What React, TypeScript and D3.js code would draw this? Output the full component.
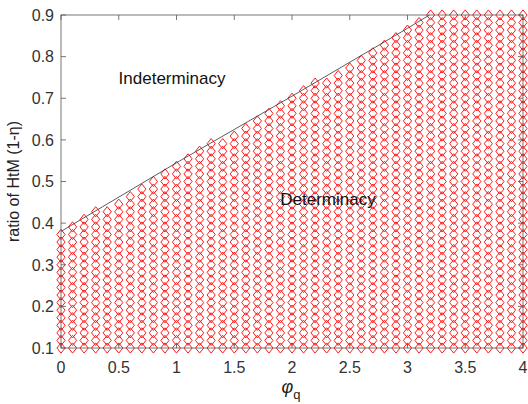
import React from 'react';
import * as d3 from 'd3';

// sampling grid of the stability check
const phiGrid = [
  0, 0.1, 0.2, 0.3, 0.4, 0.5, 0.6, 0.7, 0.8, 0.9,
  1, 1.1, 1.2, 1.3, 1.4, 1.5, 1.6, 1.7, 1.8, 1.9,
  2, 2.1, 2.2, 2.3, 2.4, 2.5, 2.6, 2.7, 2.8, 2.9,
  3, 3.1, 3.2, 3.3, 3.4, 3.5, 3.6, 3.7, 3.8, 3.9, 4,
];
const etaGrid = [
  0.1, 0.1182, 0.1364, 0.1545, 0.1727, 0.1909, 0.2091, 0.2273, 0.2455, 0.2636,
  0.2818, 0.3, 0.3182, 0.3364, 0.3545, 0.3727, 0.3909, 0.4091, 0.4273, 0.4455,
  0.4636, 0.4818, 0.5, 0.5182, 0.5364, 0.5545, 0.5727, 0.5909, 0.6091, 0.6273,
  0.6455, 0.6636, 0.6818, 0.7, 0.7182, 0.7364, 0.7545, 0.7727, 0.7909, 0.8091,
  0.8273, 0.8455, 0.8636, 0.8818, 0.9,
];
// how many grid rows (from the bottom) are determinate, per phi column
const determinateRows = [
  16, 17, 18, 19, 19, 20, 21, 22, 23, 24,
  25, 26, 27, 28, 28, 29, 30, 31, 32, 33,
  34, 35, 36, 36, 37, 38, 39, 40, 41, 42,
  43, 44, 45, 45, 45, 45, 45, 45, 45, 45, 45,
];

// boundary between the two regions
const boundaryPhi = [0, 1, 2, 3, 3.19];
const boundaryEta = [0.38, 0.545, 0.705, 0.868, 0.9];

const xTicks = [0, 0.5, 1, 1.5, 2, 2.5, 3, 3.5, 4];
const yTicks = [0.1, 0.2, 0.3, 0.4, 0.5, 0.6, 0.7, 0.8, 0.9];

const W = 528;
const H = 404;
const left = 61;
const right = 523;
const top = 15;
const bottom = 348;
const font = '"Liberation Sans", Arial, Helvetica, sans-serif';

export default function App() {
  const x = d3.scaleLinear().domain([0, 4]).range([left, right]);
  const y = d3.scaleLinear().domain([0.1, 0.9]).range([bottom, top]);

  const points: [number, number][] = [];
  phiGrid.forEach((p, i) => {
    etaGrid.slice(0, determinateRows[i]).forEach((e) => points.push([p, e]));
  });

  const line = d3
    .line<number>()
    .x((d, i) => x(boundaryPhi[i]))
    .y((d) => y(d));

  const hw = 4.1;
  const hh = 5.1;
  const diamond = (cx: number, cy: number) =>
    `M${cx},${cy - hh}L${cx + hw},${cy}L${cx},${cy + hh}L${cx - hw},${cy}Z`;

  const tick = 5;
  const axisColor = '#555';

  return (
    <svg
      width={W}
      height={H}
      style={{ position: 'absolute', left: 0, top: 0, background: '#fff' }}
      fontFamily={font}
    >
      <rect x={0} y={0} width={W} height={H} fill="#fff" />

      {/* determinacy markers */}
      <g fill="none" stroke="#ff1a1a" strokeWidth={1}>
        {points.map(([p, e], i) => (
          <path key={i} d={diamond(x(p), y(e))} />
        ))}
      </g>

      {/* boundary line */}
      <path d={line(boundaryEta) || ''} fill="none" stroke="#333" strokeWidth={0.8} />

      {/* axes box */}
      <rect
        x={left}
        y={top}
        width={right - left}
        height={bottom - top}
        fill="none"
        stroke={axisColor}
        strokeWidth={0.8}
      />
      <g stroke={axisColor} strokeWidth={0.8}>
        {xTicks.map((t) => (
          <g key={'x' + t}>
            <line x1={x(t)} x2={x(t)} y1={bottom} y2={bottom - tick} />
            <line x1={x(t)} x2={x(t)} y1={top} y2={top + tick} />
          </g>
        ))}
        {yTicks.map((t) => (
          <g key={'y' + t}>
            <line x1={left} x2={left + tick} y1={y(t)} y2={y(t)} />
            <line x1={right} x2={right - tick} y1={y(t)} y2={y(t)} />
          </g>
        ))}
      </g>

      {/* tick labels */}
      <g fill="#333" fontSize={16}>
        {xTicks.map((t) => (
          <text key={'xl' + t} x={x(t)} y={373} textAnchor="middle">
            {t}
          </text>
        ))}
        {yTicks.map((t) => (
          <text key={'yl' + t} x={54} y={y(t)} dy="0.36em" textAnchor="end">
            {t}
          </text>
        ))}
      </g>

      {/* region labels */}
      <text x={172} y={84} fontSize={17} textAnchor="middle" fill="#111">
        Indeterminacy
      </text>
      <text x={328} y={205} fontSize={17} textAnchor="middle" fill="#111">
        Determinacy
      </text>

      {/* axis titles */}
      <text
        transform={`translate(19,${(top + bottom) / 2}) rotate(-90)`}
        textAnchor="middle"
        fontSize={16}
        fill="#222"
      >
        ratio of HtM (1-η)
      </text>
      <text x={291} y={393} textAnchor="middle" fill="#222" fontSize={18}>
        <tspan fontStyle="italic">φ</tspan>
        <tspan fontSize={13} dy={6}>q</tspan>
      </text>
    </svg>
  );
}
